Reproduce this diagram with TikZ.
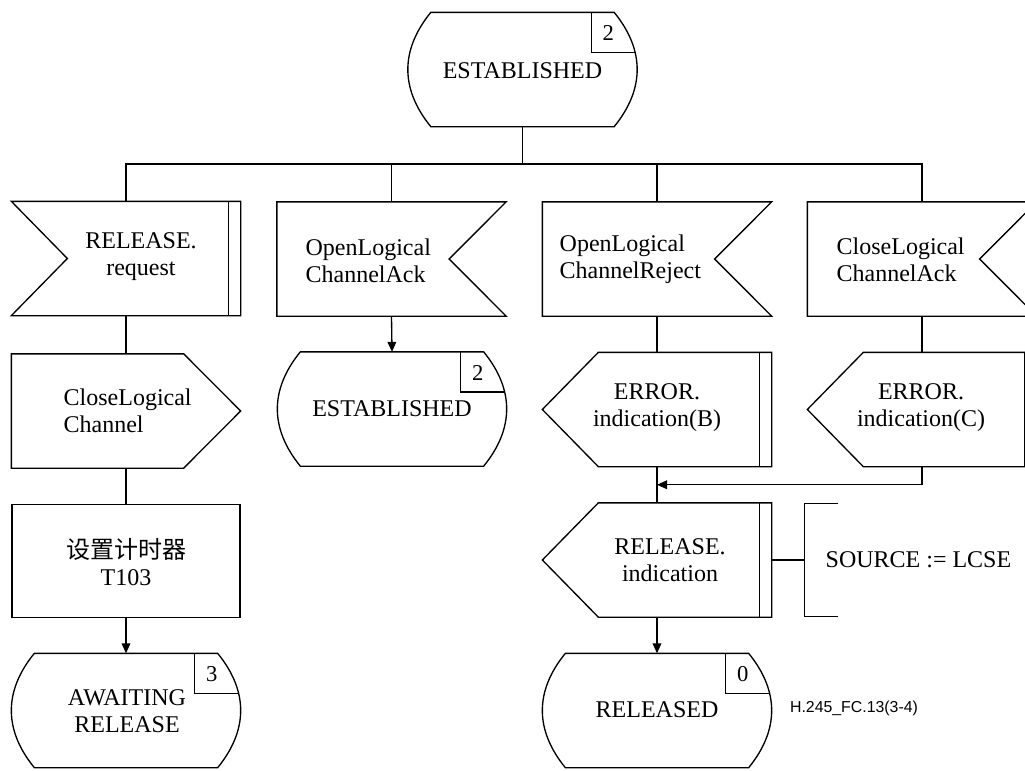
\documentclass[tikz,border=0pt]{standalone}
\usepackage{fontspec}
\setmainfont{Liberation Serif}
\newfontfamily\cjk{Noto Sans CJK SC}
\newfontfamily\labfont{Liberation Sans}
\usetikzlibrary{calc,arrows.meta}

\newcommand\DrawState[2]{%
  \draw ($(#1.north west)+(23,0)$) -- ($(#1.north east)+(-23,0)$)
    .. controls +(30.67,37.67) and +(30.67,-37.67) .. ($(#1.south east)+(-23,0)$)
    -- ($(#1.south west)+(23,0)$)
    .. controls +(-30.67,-37.67) and +(-30.67,37.67) .. ($(#1.north west)+(23,0)$) -- cycle;
  \draw ($(#1.north east)+(-46,0)$) -- ++(0,40) -- ++(44,0);
  \node[num] (#1-n) at ($(#1.north east)+(-29,21)$) {#2};
}
\newcommand\DrawInL[1]{%
  \draw (#1.north west) -- (#1.north east) -- (#1.south east) -- (#1.south west)
    -- ($(#1.west)+(56,0)$) -- cycle;
  \draw ($(#1.north east)+(-12,0)$) -- ($(#1.south east)+(-12,0)$);
}
\newcommand\DrawInR[1]{%
  \draw (#1.north west) -- (#1.north east) -- ($(#1.east)+(-57,0)$)
    -- (#1.south east) -- (#1.south west) -- cycle;
}
\newcommand\DrawOutR[1]{%
  \draw (#1.north west) -- ($(#1.north east)+(-57,0)$) -- (#1.east)
    -- ($(#1.south east)+(-57,0)$) -- (#1.south west) -- cycle;
}
\newcommand\DrawOutL[1]{%
  \draw (#1.west) -- ($(#1.north west)+(56,0)$) -- (#1.north east)
    -- (#1.south east) -- ($(#1.south west)+(56,0)$) -- cycle;
  \draw ($(#1.north east)+(-12,0)$) -- ($(#1.south east)+(-12,0)$);
}

\begin{document}
\begin{tikzpicture}[x=0.75pt,y=-0.75pt,line width=1pt,
  frame/.style={draw=none,inner sep=0pt,minimum width=171pt,minimum height=84.75pt},
  txt/.style={font=\fontsize{18pt}{20.25pt}\selectfont,inner sep=0pt,align=center},
  txtl/.style={txt,align=left,anchor=west},
  num/.style={font=\fontsize{17pt}{19pt}\selectfont,inner sep=0pt},
  arr/.style={-{Triangle[length=7.5pt,width=6.5pt]}}]
\useasboundingbox (0,0) rectangle (1025,771);
\clip (0,0) rectangle (1025,771);
\fill[white] (0,0) rectangle (1025,771);

% frames
\node[frame] (st0) at (522.5,69.5) {};
\node[frame] (r1) at (126,258.5) {};
\node[frame] (r2) at (391.5,259) {};
\node[frame] (r3) at (657,259) {};
\node[frame] (r4) at (922,259) {};
\node[frame] (c1) at (126,411) {};
\node[frame] (st1) at (392,409) {};
\node[frame] (e1) at (657,409.5) {};
\node[frame] (e2) at (922,409.5) {};
\node[frame,draw] (t1) at (126,561) {};
\node[frame] (ri) at (657,560) {};
\node[frame] (st2) at (126,710.5) {};
\node[frame] (st3) at (657,710.5) {};
\node[draw=none,inner sep=0pt,minimum width=24pt,minimum height=84pt] (tk) at (821,560) {};
\coordinate (bus) at (0,164);

% shapes
\DrawState{st0}{2}
\DrawState{st1}{2}
\DrawState{st2}{3}
\DrawState{st3}{0}
\DrawInL{r1}
\DrawInR{r2}
\DrawInR{r3}
\DrawInR{r4}
\DrawOutR{c1}
\DrawOutL{e1}
\DrawOutL{e2}
\DrawOutL{ri}
\draw (tk.north east) -- (tk.north west) -- (tk.south west) -- (tk.south east);

% texts
\node[txt] (st0-t) at (522.5,71) {ESTABLISHED};
\node[txt] (r1-t) at (141,257) {RELEASE.\\request};
\node[txtl] (r2-t) at (305,261) {OpenLogical\\ChannelAck};
\node[txtl] (r3-t) at (559,259) {OpenLogical\\ChannelReject};
\node[txtl] (r4-t) at (836,260) {CloseLogical\\ChannelAck};
\node[txtl] (c1-t) at (63,411) {CloseLogical\\Channel};
\node[txt] (st1-t) at (392,409) {ESTABLISHED};
\node[txt] (e1-t) at (657,408) {ERROR.\\indication(B)};
\node[txt] (e2-t) at (921,408) {ERROR.\\indication(C)};
\node[txt] (t1-t) at (126,562) {{\cjk 设置计时器}\\T103};
\node[txt] (ri-t) at (670,560) {RELEASE.\\indication};
\node[txt] (st2-t) at (127,711) {AWAITING\\RELEASE};
\node[txt] (st3-t) at (657,710) {RELEASED};
\node[txtl] (tk-t) at (825,560) {SOURCE := LCSE};
\node[font=\labfont\fontsize{11.9pt}{14pt}\selectfont,inner sep=0pt] (lab) at (854,708) {H.245\_FC.13(3-4)};

% connectors
\draw (st0.south) -- (st0.south |- bus);
\draw (r1.north) -- (r1.north |- bus) -- (r4.north |- bus) -- (r4.north);
\draw (r2.north) -- (r2.north |- bus);
\draw (r3.north) -- (r3.north |- bus);
\draw (r1.south) -- (c1.north);
\draw (c1.south) -- (t1.north);
\draw[arr] (t1.south) -- (st2.north);
\draw[arr] (r2.south) -- (st1.north);
\draw (r3.south) -- (e1.north);
\draw (r4.south) -- (e2.north);
\draw (e1.south) -- (ri.north);
\coordinate (mg) at ($(e1.south)!0.5!(ri.north)$);
\draw[arr] (e2.south) |- (mg);
\draw[arr] (ri.south) -- (st3.north);
\draw (ri.east) -- (tk.west);
\end{tikzpicture}
\end{document}
